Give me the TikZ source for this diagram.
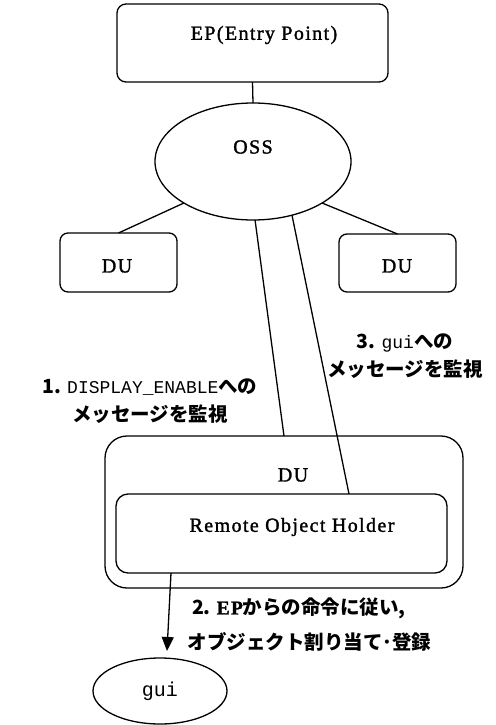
\documentclass[tikz,border=0pt]{standalone}
\usepackage{fontspec}
\setmainfont{Liberation Serif}[LetterSpace=7, FakeBold=1.5]
\setmonofont{Liberation Mono}
\newfontfamily\jpfont{Noto Sans CJK JP}
\usetikzlibrary{shapes.geometric,arrows.meta}

\tikzset{
	unitbox/.style={draw, line width=1.3pt, rounded corners=9pt, inner sep=0pt, outer sep=0pt},
	ovalnode/.style={draw, ellipse, line width=1.3pt, inner sep=0pt, outer sep=0pt},
	boxtext/.style={font=\fontsize{20}{24}\selectfont},
	notetext/.style={font=\jpfont\bfseries\fontsize{19.5}{28}\selectfont, align=center},
	wire/.style={line width=1.3pt},
}

\begin{document}
\begin{tikzpicture}[x=1pt, y=-1pt]
	\useasboundingbox (0,0) rectangle (495,725);

	\node[unitbox, minimum width=271pt, minimum height=78pt] (ep) at (252.5,43) {};
	\node[boxtext] (eplabel) at (264,35) {EP(Entry Point)};

	\node[ovalnode, minimum width=196pt, minimum height=117pt] (oss) at (253,161.5) {};
	\node[boxtext] (osslabel) at (253,147) {OSS};

	\node[unitbox, rounded corners=8pt, minimum width=117pt, minimum height=59pt] (dul) at (118.5,262.5) {};
	\node[boxtext] (dullabel) at (117,266) {DU};
	\node[unitbox, rounded corners=8pt, minimum width=117pt, minimum height=58pt] (dur) at (397.5,263) {};
	\node[boxtext] (durlabel) at (397,266) {DU};

	\node[unitbox, rounded corners=22pt, minimum width=358pt, minimum height=152pt] (du) at (284,512) {};
	\node[boxtext] (dulabel) at (293,475) {DU};
	\node[unitbox, rounded corners=12pt, minimum width=331pt, minimum height=79pt] (roh) at (281.5,533.5) {};
	\node[boxtext] (rohlabel) at (292,527) {Remote Object Holder};

	\node[ovalnode, minimum width=134pt, minimum height=66pt, font=\ttfamily\fontsize{20}{24}\selectfont] (gui) at (160,691) {gui};
	\coordinate (guitip) at (167,651);

	\draw[wire] (ep.south) -- (oss.north);
	\draw[wire] (oss.211) -- (dul.north);
	\draw[wire] (oss.329) -- (dur.north);
	\draw[wire] (oss.272) -- (du.north);
	\draw[wire] (oss.306) -- ([xshift=67.5pt]roh.north);
	\draw[wire, -{Triangle[length=14pt, width=12pt]}] ([xshift=55pt]roh.south west) -- (guitip);

	\node[notetext] (watchone) at (150,401) {1. {\ttfamily\mdseries\fontsize{18}{28}\selectfont DISPLAY\_ENABLE}への\\メッセージを監視};
	\node[notetext] (watchthree) at (405,356) {3. {\ttfamily\mdseries\fontsize{18}{28}\selectfont gui}への\\メッセージを監視};
	\node[notetext, align=left, anchor=west, font=\jpfont\bfseries\fontsize{19.5}{35}\selectfont] (assign) at (184,624.5) {\ 2. {\rmfamily\bfseries EP}からの命令に従い,\\オブジェクト割り当て･登録};
\end{tikzpicture}
\end{document}
